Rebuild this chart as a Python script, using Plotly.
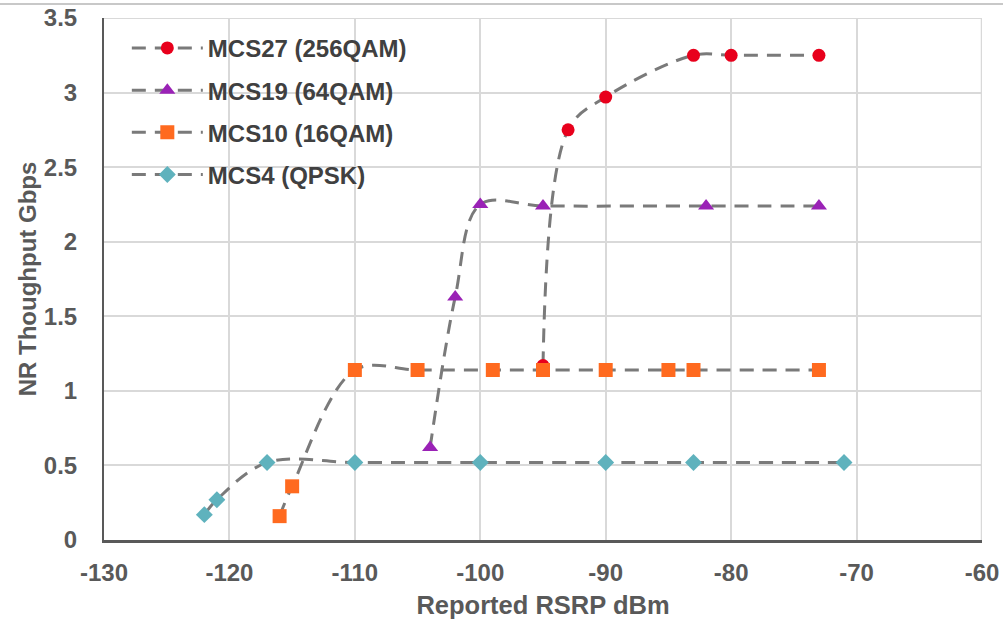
import plotly.graph_objects as go

# ---- data ----
mcs27_x = [-95, -93, -90, -83, -80, -73]
mcs27_y = [1.17, 2.75, 2.97, 3.25, 3.25, 3.25]

mcs19_x = [-104, -102, -100, -95, -82, -73]
mcs19_y = [0.62, 1.63, 2.25, 2.24, 2.24, 2.24]

mcs10_x = [-116, -115, -110, -105, -99, -95, -90, -85, -83, -73]
mcs10_y = [0.16, 0.36, 1.14, 1.14, 1.14, 1.14, 1.14, 1.14, 1.14, 1.14]

mcs4_x = [-122, -121, -117, -110, -100, -90, -83, -71]
mcs4_y = [0.17, 0.27, 0.52, 0.52, 0.52, 0.52, 0.52, 0.52]

names = ["MCS27 (256QAM)", "MCS19 (64QAM)", "MCS10 (16QAM)", "MCS4 (QPSK)"]
colors = ["#E8001C", "#9A22B6", "#FF6A1F", "#5FB2BD"]
symbols = ["circle", "triangle-up", "square", "diamond"]
sizes = [13, 14, 14, 13]

x_ticks = [-130, -120, -110, -100, -90, -80, -70, -60]
x_ticklabels = ["-130", "-120", "-110", "-100", "-90", "-80", "-70", "-60"]
y_ticks = [0, 0.5, 1, 1.5, 2, 2.5, 3, 3.5]
y_ticklabels = ["0", "0.5", "1", "1.5", "2", "2.5", "3", "3.5"]

series = [(mcs27_x, mcs27_y), (mcs19_x, mcs19_y), (mcs10_x, mcs10_y), (mcs4_x, mcs4_y)]

FONT = "Liberation Sans, Arial, sans-serif"
TXT = "#595959"

fig = go.Figure()
for i, ((xs, ys), nm, col, sym, sz) in enumerate(zip(series, names, colors, symbols, sizes)):
    fig.add_trace(go.Scatter(
        x=xs, y=ys, name=nm, mode="lines+markers", legendgroup=str(i),
        line=dict(color="#7A7A7A", width=3, dash="14px,9px", shape="spline", smoothing=1),
        marker=dict(color=col, symbol=sym, size=sz, line=dict(width=0)),
    ))

fig.update_layout(
    width=1003, height=621,
    margin=dict(l=104, r=21, t=18, b=81),
    paper_bgcolor="white", plot_bgcolor="white",
    font=dict(family=FONT, size=24, color=TXT),
    showlegend=True,
    legend=dict(
        x=0.026, y=0.985, xanchor="left", yanchor="top",
        bgcolor="rgba(0,0,0,0)", traceorder="grouped", tracegroupgap=8,
        itemwidth=71,
        font=dict(family=FONT, size=24, color="#404040", weight="bold"),
    ),
    xaxis=dict(
        range=[-130, -60], tickvals=x_ticks, ticktext=x_ticklabels,
        showgrid=True, gridcolor="#D9D9D9", gridwidth=1.5,
        showline=True, linecolor="#595959", linewidth=2.5,
        zeroline=False, ticks="", ticklabelstandoff=9, automargin=False,
        tickfont=dict(family=FONT, size=24, color=TXT, weight="bold"),
        title=dict(text="Reported RSRP dBm", standoff=12,
                   font=dict(family=FONT, size=25.5, color=TXT, weight="bold")),
    ),
    yaxis=dict(
        range=[0, 3.5], tickvals=y_ticks, ticktext=y_ticklabels,
        showgrid=True, gridcolor="#D9D9D9", gridwidth=1.5,
        showline=True, linecolor="#595959", linewidth=2,
        zeroline=False, ticks="", ticklabelstandoff=20, automargin=False,
        tickfont=dict(family=FONT, size=24, color=TXT, weight="bold"),
        title=dict(text="NR Thoughput Gbps", standoff=0,
                   font=dict(family=FONT, size=24, color=TXT, weight="bold")),
    ),
    shapes=[
        dict(type="line", xref="paper", yref="paper",
             x0=-104 / 878, x1=(1003 - 104) / 878, y0=(540 - 4) / 522, y1=(540 - 4) / 522,
             line=dict(color="#C8C8C8", width=2)),
        dict(type="line", xref="x", yref="paper", x0=-60, x1=-60, y0=0, y1=1,
             line=dict(color="#D9D9D9", width=2.5), layer="below"),
        dict(type="line", xref="paper", yref="y", x0=0, x1=1, y0=3.5, y1=3.5,
             line=dict(color="#D9D9D9", width=2), layer="below"),
    ],
)

fig.write_html(
    "out.html",
    config={"displayModeBar": False},
    post_script="document.body.style.margin='0';document.body.style.overflow='hidden';",
)
